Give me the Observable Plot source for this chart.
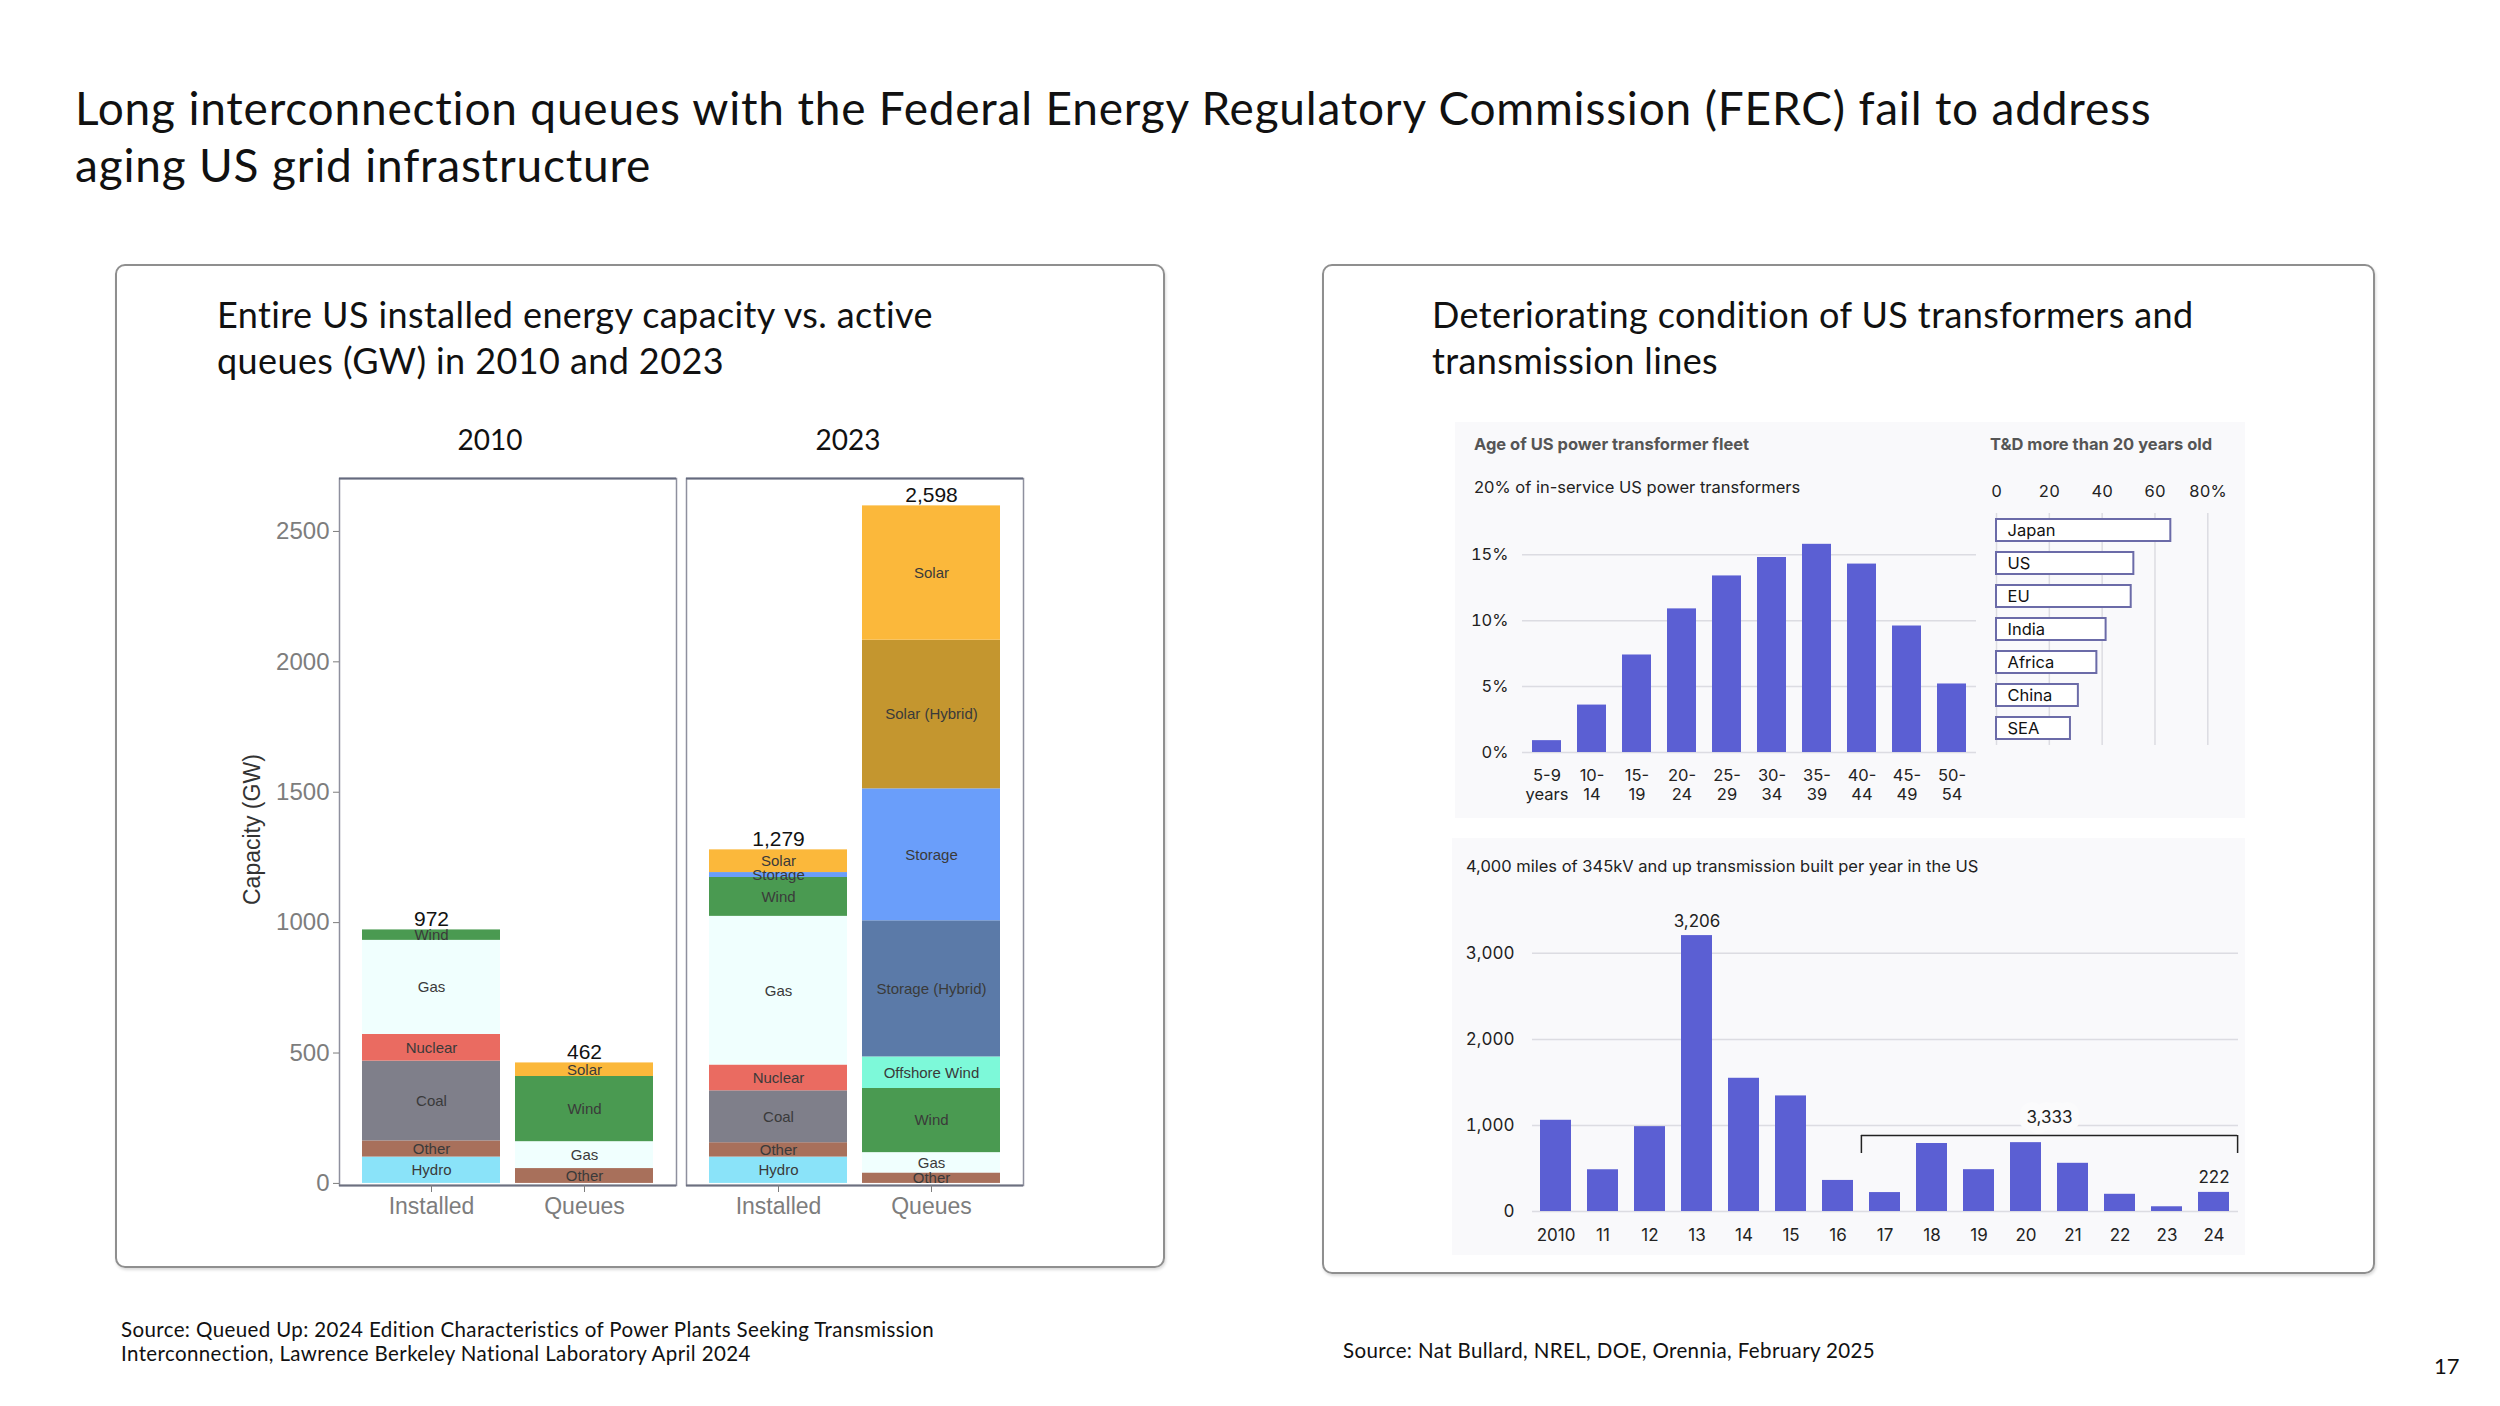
<!DOCTYPE html>
<html>
<head>
<meta charset="utf-8">
<script src="https://cdn.jsdelivr.net/npm/d3@7"></script>
<script src="https://cdn.jsdelivr.net/npm/@observablehq/plot@0.6"></script>
<style>
  html, body { margin: 0; padding: 0; background: #fff; }
  #page { position: relative; width: 2500px; height: 1406px; overflow: hidden; background: #fff; }
  .panel { position: absolute; border: 2px solid #8f8f8f; border-radius: 10px; box-shadow: 1px 2px 3px rgba(0,0,0,0.15); box-sizing: border-box; }
  .bg { position: absolute; background: #f9f9fb; }
  .chart { position: absolute; }
  .chart svg { display: block; overflow: visible; }
</style>
</head>
<body>
<div id="page"></div>
<script>
// ---------------- DATA ----------------
const mainTitle = ["Long interconnection queues with the Federal Energy Regulatory Commission (FERC) fail to address", "aging US grid infrastructure"];
const leftPanelTitle = ["Entire US installed energy capacity vs. active", "queues (GW) in 2010 and 2023"];
const rightPanelTitle = ["Deteriorating condition of US transformers and", "transmission lines"];
const leftSource = ["Source: Queued Up: 2024 Edition Characteristics of Power Plants Seeking Transmission", "Interconnection, Lawrence Berkeley National Laboratory April 2024"];
const rightSource = "Source: Nat Bullard, NREL, DOE, Orennia, February 2025";
const pageNumber = "17";

// Capacity chart (GW)
const capYears = ["2010", "2023"];
const capTypes = ["Installed", "Queues"];
const capCategories = ["Hydro", "Other", "Coal", "Nuclear", "Gas", "Wind", "Offshore Wind", "Storage (Hybrid)", "Storage", "Solar (Hybrid)", "Solar"];
const capColors = ["#8ae3f9", "#a8705b", "#7f7f8a", "#ea6b61", "#f0fffe", "#4a9a51", "#7df9d9", "#5b7aa8", "#6a9efa", "#c4962f", "#fbb83b"];
const installed2010Cats = ["Hydro", "Other", "Coal", "Nuclear", "Gas", "Wind"];
const installed2010Vals = [101, 62, 306, 102, 361, 40];
const queues2010Cats = ["Other", "Gas", "Wind", "Solar"];
const queues2010Vals = [57, 103, 250, 52];
const installed2023Cats = ["Hydro", "Other", "Coal", "Nuclear", "Gas", "Wind", "Storage", "Solar"];
const installed2023Vals = [101, 55, 199, 99, 570, 149, 19, 87];
const queues2023Cats = ["Other", "Gas", "Wind", "Offshore Wind", "Storage (Hybrid)", "Storage", "Solar (Hybrid)", "Solar"];
const queues2023Vals = [40, 78, 246, 121, 522, 506, 570, 515];
const capYTicks = [0, 500, 1000, 1500, 2000, 2500];
const capYLabel = "Capacity (GW)";

// Transformer age chart (% of fleet)
const ageTitle = "Age of US power transformer fleet";
const ageSubtitle = "20% of in-service US power transformers";
const ageBins = ["5-9\nyears", "10-\n14", "15-\n19", "20-\n24", "25-\n29", "30-\n34", "35-\n39", "40-\n44", "45-\n49", "50-\n54"];
const ageShare = [0.9, 3.6, 7.4, 10.9, 13.4, 14.8, 15.8, 14.3, 9.6, 5.2];
const ageYTicks = [0, 5, 10, 15];

// T&D more than 20 years old (%)
const tdTitle = "T&D more than 20 years old";
const tdRegions = ["Japan", "US", "EU", "India", "Africa", "China", "SEA"];
const tdShare = [66, 52, 51, 41.5, 38, 31, 28];
const tdTicks = [0, 20, 40, 60, 80];

// Transmission miles built per year
const txTitle = "4,000 miles of 345kV and up transmission built per year in the US";
const txYears = ["2010", "11", "12", "13", "14", "15", "16", "17", "18", "19", "20", "21", "22", "23", "24"];
const txMiles = [1060, 485, 986, 3206, 1548, 1343, 361, 220, 790, 486, 800, 560, 200, 55, 222];
const txLabeledYears = ["13", "24"];
const txYTicks = [0, 1000, 2000, 3000];
const txBracket = [{from: "17", to: "24", top: 883, bottom: 674, label: "3,333", labelAt: "20", labelY: 1090}];

// ---------------- PAGE HELPERS ----------------
const page = document.getElementById("page");
const baselineK = {"Lato": 0.887, "Inter": 0.864, "Liberation Sans": 0.846};
function addText(txt, x, baseline, size, opts = {}) {
  const fam = opts.family || "Lato";
  const d = document.createElement("div");
  d.textContent = txt;
  d.style.cssText = `position:absolute;left:${x}px;top:${baseline - baselineK[fam] * size}px;` +
    `font-family:'${fam}',sans-serif;font-size:${size}px;font-weight:${opts.weight || 400};line-height:1;white-space:nowrap;color:${opts.color || "#111"};` +
    (opts.spacing ? `letter-spacing:${opts.spacing}px;` : "") +
    (opts.rotate ? `transform-origin:0 0;transform:rotate(-90deg);` : "");
  page.appendChild(d);
  return d;
}
function addBox(cls, x, y, w, h) {
  const d = document.createElement("div");
  d.className = cls;
  d.style.left = x + "px"; d.style.top = y + "px"; d.style.width = w + "px"; d.style.height = h + "px";
  page.appendChild(d);
  return d;
}
function addChart(svg, x, y) {
  const d = document.createElement("div");
  d.className = "chart";
  d.style.left = x + "px"; d.style.top = y + "px";
  d.appendChild(svg);
  page.appendChild(d);
}

// ---------------- STATIC TEXT & PANELS ----------------
mainTitle.forEach((t, i) => addText(t, 75, 126 + i * 57, 46, {spacing: 0.8}));
addBox("panel", 115, 264, 1050, 1004);
addBox("panel", 1322, 264, 1053, 1010);
leftPanelTitle.forEach((t, i) => addText(t, 217, 328 + i * 46, 36, {spacing: 0.4}));
rightPanelTitle.forEach((t, i) => addText(t, 1432, 328 + i * 46, 36, {spacing: 0.4}));
leftSource.forEach((t, i) => addText(t, 121, 1337 + i * 24, 20.5, {spacing: 0.38}));
addText(rightSource, 1343, 1358, 20.5, {spacing: 0.38});
addText(pageNumber, 2434, 1375, 22);

// ---------------- LEFT CHART: capacity ----------------
const capBars = [
  {year: "2010", type: "Installed", cats: installed2010Cats, vals: installed2010Vals},
  {year: "2010", type: "Queues", cats: queues2010Cats, vals: queues2010Vals},
  {year: "2023", type: "Installed", cats: installed2023Cats, vals: installed2023Vals},
  {year: "2023", type: "Queues", cats: queues2023Cats, vals: queues2023Vals}
];
const capData = capBars.flatMap(b => b.cats.map((c, i) => ({year: b.year, type: b.type, cat: c, value: b.vals[i]})));
const capTotals = capBars.map(b => ({year: b.year, type: b.type, total: d3.sum(b.vals)}));
const capFacetLabels = capYears.map(y => ({year: y}));
const capTop = 2703;
const facetLabelStyle = {fx: "year", text: "year", frameAnchor: "top", lineAnchor: "bottom", dy: -29, fontSize: 28, fontFamily: "Lato", fill: "#111"};

const capPlot = Plot.plot({
  width: 850, height: 820,
  marginLeft: 139, marginRight: 27, marginTop: 58, marginBottom: 55,
  style: {fontFamily: "'Liberation Sans', Arial, sans-serif", background: "transparent", overflow: "visible"},
  fx: {domain: capYears, padding: 0.029, label: null, axis: null},
  x: {domain: capTypes, paddingInner: 0.1, paddingOuter: 0.15, label: null},
  y: {domain: [-8, capTop], label: null},
  color: {domain: capCategories, range: capColors},
  marks: [
    Plot.barY(capData, {fx: "year", x: "type", y: "value", fill: "cat"}),
    Plot.text(capData, Plot.stackY({fx: "year", x: "type", y: "value", text: "cat", fontSize: 15, fill: "#3a3a3a"})),
    Plot.text(capTotals, {fx: "year", x: "type", y: "total", text: d => d3.format(",")(d.total), lineAnchor: "bottom", dy: -4, fontSize: 21, fill: "#111"}),
    Plot.frame({stroke: "#8e909e", strokeWidth: 1.5}),
    Plot.ruleY([capTop], {stroke: "#656a7e", strokeWidth: 2}),
    Plot.ruleY([-8], {stroke: "#6d7080", strokeWidth: 2}),
    Plot.axisY(capYTicks, {tickSize: 6, tickPadding: 4, fontSize: 24, color: "#7d7d7d", label: null, tickFormat: d => String(d)}),
    Plot.axisX({tickSize: 7, tickPadding: 5, fontSize: 23, color: "#7d7d7d", label: null}),
    Plot.text(capFacetLabels.slice(0, 1), {...facetLabelStyle, dx: -18}),
    Plot.text(capFacetLabels.slice(1, 2), {...facetLabelStyle, dx: -7})
  ]
});
addChart(capPlot, 200, 420);
addText(capYLabel, 241, 924, 23, {family: "Liberation Sans", rotate: true, color: "#333"});

// ---------------- RIGHT TOP: transformer age ----------------
addBox("bg", 1455, 422, 790, 396);
addText(ageTitle, 1474, 450, 16.5, {family: "Inter", weight: 700, color: "#555"});
addText(ageSubtitle, 1474, 493, 16.5, {family: "Inter", color: "#222"});
addText(tdTitle, 1990, 450, 16.5, {family: "Inter", weight: 700, color: "#555"});

const ageData = ageBins.map((b, i) => ({bin: b, share: ageShare[i]}));
const agePlot = Plot.plot({
  width: 540, height: 320,
  marginLeft: 67, marginRight: 19, marginTop: 28, marginBottom: 68,
  style: {fontFamily: "Inter, sans-serif", background: "transparent", overflow: "visible"},
  x: {domain: ageBins, paddingInner: 0.36, paddingOuter: 0.19, label: null},
  y: {domain: [0, 17], label: null},
  marks: [
    Plot.gridY(ageYTicks, {stroke: "#dcdce2", strokeOpacity: 1, strokeWidth: 1.5}),
    Plot.barY(ageData, {x: "bin", y: "share", fill: "#5b5fd3"}),
    Plot.axisY(ageYTicks, {tickSize: 0, tickPadding: 14, tickFormat: d => d + "%", fontSize: 16.5, color: "#222", label: null}),
    Plot.axisX({tickSize: 0, tickPadding: 14, fontSize: 16.5, lineHeight: 1.2, color: "#222", label: null})
  ]
});
addChart(agePlot, 1455, 500);

const tdData = tdRegions.map((r, i) => ({region: r, share: tdShare[i]}));
const tdPlot = Plot.plot({
  width: 260, height: 290,
  marginLeft: 16, marginRight: 32.7, marginTop: 43, marginBottom: 15,
  style: {fontFamily: "Inter, sans-serif", background: "transparent", overflow: "visible"},
  x: {domain: [0, 80], label: null},
  y: {domain: tdRegions, paddingInner: 0.325, paddingOuter: 0.15, label: null, axis: null},
  marks: [
    Plot.gridX(tdTicks, {stroke: "#dcdce2", strokeOpacity: 1, strokeWidth: 1.5}),
    Plot.barX(tdData, {x: "share", y: "region", fill: "white", stroke: "#6b6ba8", strokeWidth: 2}),
    Plot.text(tdData, {x: 0, y: "region", text: "region", textAnchor: "start", dx: 11, fontSize: 16.5, fill: "#111"}),
    Plot.axisX(tdTicks, {anchor: "top", tickSize: 0, tickPadding: 17, fontSize: 16.5, color: "#222", label: null, tickFormat: d => d === 80 ? "80%" : String(d)})
  ]
});
addChart(tdPlot, 1980, 470);

// ---------------- RIGHT BOTTOM: transmission ----------------
addBox("bg", 1452, 838, 793, 417);
addText(txTitle, 1466, 872, 16.5, {family: "Inter", color: "#222"});
const txData = txYears.map((y, i) => ({year: y, miles: txMiles[i]}));
const txLabeled = txData.filter(d => txLabeledYears.includes(d.year));
const txPlot = Plot.plot({
  width: 809, height: 406,
  marginLeft: 66, marginRight: 37, marginTop: 76, marginBottom: 46,
  style: {fontFamily: "Inter, sans-serif", background: "transparent", overflow: "visible"},
  x: {domain: txYears, paddingInner: 0.34, paddingOuter: 0.15, label: null},
  y: {domain: [0, 3300], label: null},
  marks: [
    Plot.gridY(txYTicks, {stroke: "#dcdce2", strokeOpacity: 1, strokeWidth: 1.5}),
    Plot.barY(txData, {x: "year", y: "miles", fill: "#5b5fd3"}),
    Plot.text(txLabeled, {x: "year", y: "miles", text: d => d3.format(",")(d.miles), lineAnchor: "bottom", dy: -9, fontSize: 17, fill: "#222"}),
    Plot.ruleX(txBracket, {x: "from", y1: "bottom", y2: "top", dx: -23.6, stroke: "#222", strokeWidth: 1.5}),
    Plot.ruleX(txBracket, {x: "to", y1: "bottom", y2: "top", dx: 23.6, stroke: "#222", strokeWidth: 1.5}),
    Plot.ruleY(txBracket, {x1: "from", x2: "to", y: "top", insetLeft: -8.1, insetRight: -8.1, stroke: "#222", strokeWidth: 1.5}),
    Plot.text(txBracket, {x: "labelAt", y: "labelY", text: "label", dx: 23.5, fontSize: 17, fill: "#222", stroke: "#fbfbfc", strokeWidth: 16, paintOrder: "stroke"}),
    Plot.axisY(txYTicks, {tickSize: 0, tickPadding: 18, fontSize: 17, color: "#222", label: null, tickFormat: d3.format(",")}),
    Plot.axisX({tickSize: 0, tickPadding: 17, fontSize: 17, color: "#222", label: null})
  ]
});
addChart(txPlot, 1466, 851);
</script>
</body>
</html>
